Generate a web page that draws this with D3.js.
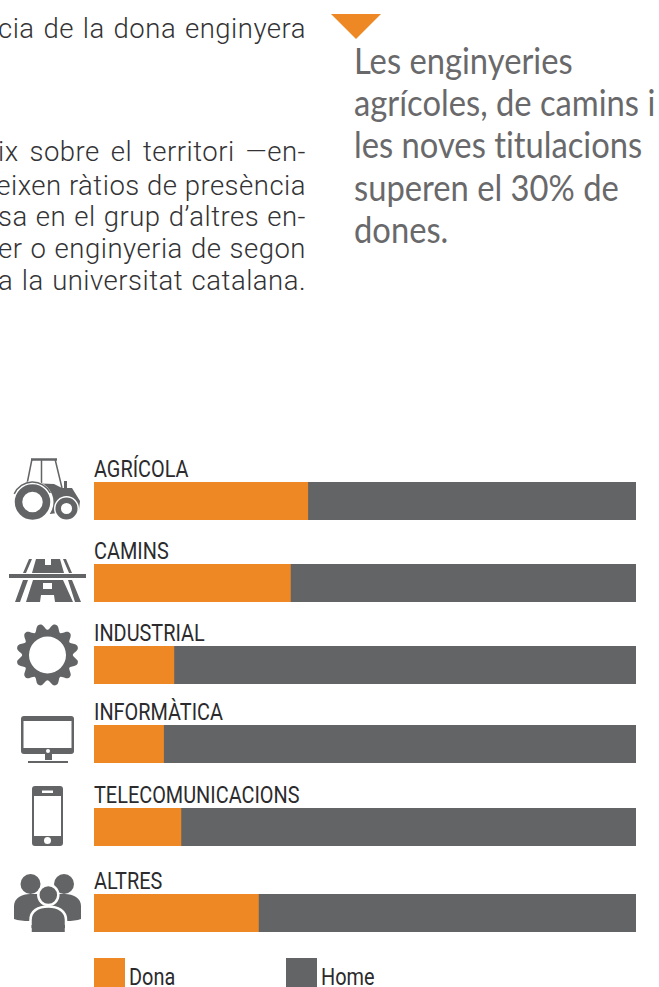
<!DOCTYPE html>
<html>
<head>
<meta charset="utf-8">
<script src="https://cdn.jsdelivr.net/npm/d3@7"></script>
<style>
html, body { margin: 0; padding: 0; background: #fff; overflow: hidden; }
svg { display: block; }
</style>
</head>
<body>
<div id="chart-area"></div>
<script>
const WIDTH = 659;
const HEIGHT = 987;
const ORANGE = "#ed8825";
const GREY = "#636466";

const categories = ["AGRÍCOLA", "CAMINS", "INDUSTRIAL", "INFORMÀTICA", "TELECOMUNICACIONS", "ALTRES"];
const donaPct = [39.5, 36.3, 14.8, 12.9, 16.1, 30.4];
const legendLabels = ["Dona", "Home"];
const bodyLines = [
    "cia de la dona enginyera",
    "ix sobre el territori —en-",
    "eixen ràtios de presència",
    "sa en el grup d’altres en-",
    "er o enginyeria de segon",
    "a la universitat catalana."
];
const calloutLines = ["Les enginyeries", "agrícoles, de camins i", "les noves titulacions", "superen el 30% de", "dones."];

const svg = d3.select("#chart-area").append("svg")
    .attr("width", WIDTH)
    .attr("height", HEIGHT);

// rows are not evenly spaced in the original
const rowTop = d3.scaleOrdinal().domain(categories).range([482, 564, 646, 725, 808, 894]);
const x = d3.scaleLinear().domain([0, 100]).range([94, 636]);
const barHeight = 38;

// body text, cut off at the left edge and justified by word spacing
const bodyY = d3.scaleOrdinal().domain(bodyLines).range([38, 161, 195, 226, 258, 290]);
svg.selectAll("text.body")
    .data(bodyLines)
    .enter()
    .append("text")
    .attr("class", "body")
    .attr("x", 306)
    .attr("y", d => bodyY(d))
    .attr("text-anchor", "end")
    .style("font-family", "Roboto")
    .style("font-weight", 300)
    .style("font-size", "27.5px")
    .style("letter-spacing", "0.5px")
    .style("fill", "#333335")
    .text(d => d);

// callout
svg.append("path")
    .attr("d", "M331,14 L381,14 L356,39 Z")
    .attr("fill", ORANGE);

const calloutY = d3.scaleOrdinal().domain(calloutLines).range([74, 116, 158, 201, 243]);
svg.selectAll("text.callout")
    .data(calloutLines)
    .enter()
    .append("text")
    .attr("class", "callout")
    .attr("transform", d => "translate(354," + calloutY(d) + ") scale(0.885,1)")
    .style("font-family", "Lato")
    .style("font-weight", 400)
    .style("font-size", "37px")
    .style("font-variant-ligatures", "none")
    .style("fill", "#69696b")
    .text(d => d);

// bars
const rows = svg.selectAll("g.row")
    .data(categories)
    .enter()
    .append("g")
    .attr("class", "row")
    .attr("transform", d => "translate(0," + rowTop(d) + ")");

rows.append("rect")
    .attr("x", x(0))
    .attr("width", x(100) - x(0))
    .attr("height", barHeight)
    .attr("fill", GREY);

rows.append("rect")
    .attr("x", x(0))
    .attr("width", (d, i) => x(donaPct[i]) - x(0))
    .attr("height", barHeight)
    .attr("fill", ORANGE);

rows.append("text")
    .attr("transform", "translate(" + x(0) + ",-5) scale(0.865,1)")
    .style("font-family", "Roboto")
    .style("font-size", "23px")
    .style("fill", "#2b2b2d")
    .text(d => d);

// legend
const legendX = d3.scaleOrdinal().domain(legendLabels).range([94, 286]);
const legend = svg.selectAll("g.legend")
    .data(legendLabels)
    .enter()
    .append("g")
    .attr("class", "legend")
    .attr("transform", d => "translate(" + legendX(d) + ",958)");
legend.append("rect")
    .attr("width", 31)
    .attr("height", 29)
    .attr("fill", (d, i) => i === 0 ? ORANGE : GREY);
legend.append("text")
    .attr("transform", "translate(35,27) scale(0.865,1)")
    .style("font-family", "Roboto")
    .style("font-size", "23px")
    .style("fill", "#2b2b2d")
    .text(d => d);

// icons
const icons = svg.append("g").attr("fill", GREY);

// tractor
const tractor = icons.append("g");
tractor.append("path")
    .attr("fill", "none")
    .attr("stroke", GREY)
    .attr("stroke-width", 1.5)
    .attr("d", "M32,459 L27,484 M41.5,459 V484 M55,459 L62,488");
tractor.append("path")
    .attr("fill", "none")
    .attr("stroke", GREY)
    .attr("stroke-width", 2.5)
    .attr("d", "M31,459.5 H57");
tractor.append("path")
    .attr("d", "M28,483 L54,484 L62,488 L64,488 V481 H67 V488 L72,488 L80,501 L79,510 L50,514 Z");
tractor.append("circle").attr("cx", 32.5).attr("cy", 502).attr("r", 21).attr("fill", "#fff");
tractor.append("path")
    .attr("transform", "translate(32.5,502)")
    .attr("fill", "none")
    .attr("stroke", GREY)
    .attr("stroke-width", 1.5)
    .attr("d", d3.arc().innerRadius(20).outerRadius(20).startAngle(-1.15).endAngle(1.1)());
tractor.append("circle").attr("cx", 32.5).attr("cy", 502).attr("r", 14)
    .attr("fill", "none").attr("stroke", GREY).attr("stroke-width", 7.5);
tractor.append("circle").attr("cx", 66.5).attr("cy", 508.5).attr("r", 12.5).attr("fill", "#fff");
tractor.append("circle").attr("cx", 66.5).attr("cy", 508.5).attr("r", 8.3)
    .attr("fill", "none").attr("stroke", GREY).attr("stroke-width", 5.5);

// road with bridge
icons.append("path")
    .attr("fill-rule", "evenodd")
    .attr("d", "M9,574 H86 V578 H9 Z M29,559 L32,559 L26,573 L23,573 Z M36,559 L60,559 L64,573 L32,573 Z M45,559 V565 H51 V559 Z M63,559 L66,559 L72,573 L69,573 Z M23,580 L28,580 L20,602 L15,602 Z M33,580 L63,580 L73,602 L55,602 L54,595 L41,595 L40,602 L26,602 Z M43,583 V589 H52 V583 Z M68,580 L72,580 L81,602 L75,602 Z");

// gear
const gearTeeth = 12;
const gearProfile = [31, 31.5, 31, 27, 24.5, 27];
const gearPoints = d3.range(gearTeeth * gearProfile.length).map(i => {
    const a = ((i + 2) / (gearTeeth * gearProfile.length)) * 2 * Math.PI;
    return [a, gearProfile[i % gearProfile.length]];
});
icons.append("path")
    .attr("transform", "translate(47.5,655)")
    .attr("fill-rule", "evenodd")
    .attr("d", d3.lineRadial().curve(d3.curveBasisClosed)(gearPoints) +
        "M18.5,0 A18.5,18.5 0 1,0 -18.5,0 A18.5,18.5 0 1,0 18.5,0 Z");

// monitor
icons.append("path")
    .attr("fill-rule", "evenodd")
    .attr("d", "M24,716 H71 Q74,716 74,719 V751 Q74,754 71,754 H52 V760 H45 V754 H24 Q21,754 21,751 V719 Q21,716 24,716 Z M23.5,721 V748 H71.5 V721 Z M48,749 A2,2 0 1,0 48,753 A2,2 0 1,0 48,749 Z");
icons.append("path").attr("d", "M28,761 H68 V763 H28 Z");

// phone
icons.append("path")
    .attr("fill-rule", "evenodd")
    .attr("d", "M35,786 H60 Q63,786 63,789 V843 Q63,846 60,846 H35 Q32,846 32,843 V789 Q32,786 35,786 Z M34,796 V836 H61 V796 Z M42,790.5 V793 H53 V790.5 Z M47.5,837 A3.5,3.5 0 1,0 47.5,844 A3.5,3.5 0 1,0 47.5,837 Z");

// people
icons.append("circle").attr("cx", 30.5).attr("cy", 884).attr("r", 10);
icons.append("circle").attr("cx", 64).attr("cy", 884).attr("r", 10);
icons.append("path").attr("d", "M14,906 C14,898 22,894 30,894 L38,894 L48,906 L30,921 Q20,921 14,919 Z");
icons.append("path").attr("d", "M81,906 C81,898 73,894 65,894 L57,894 L48,906 L66,921 Q75,921 81,919 Z");
icons.append("circle").attr("cx", 48.3).attr("cy", 895).attr("r", 10)
    .attr("stroke", "#fff").attr("stroke-width", 2.5);
icons.append("path")
    .attr("stroke", "#fff").attr("stroke-width", 2.5)
    .attr("d", "M30.5,934 V920 C30.5,911 38,906.5 48.3,906.5 C58,906.5 66,911 66,920 V934 Z");
icons.append("path").attr("d", "M0,932 H100 V940 H0 Z").attr("fill", "#fff");
icons.append("path").attr("d", "M31.5,925 V928 Q48,933 65,928 V925 Z");

// justify the body lines to the visible width
svg.selectAll("text.body").each(function (d) {
    const natural = this.getComputedTextLength();
    const gaps = d.split(" ").length - 1;
    const extra = Math.max(0, (308 - natural) / gaps);
    d3.select(this).style("word-spacing", extra + "px");
});
</script>
</body>
</html>
